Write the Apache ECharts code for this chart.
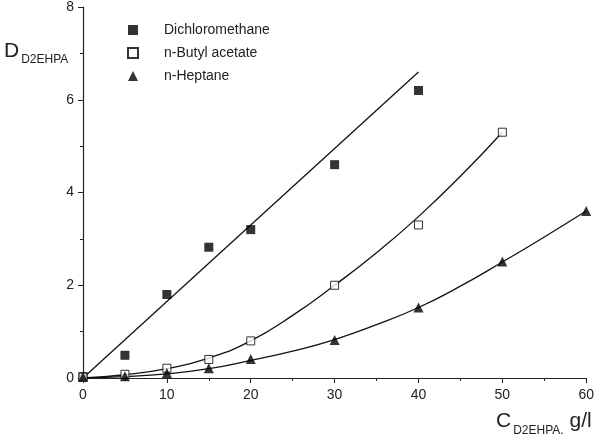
<!DOCTYPE html>
<html>
<head>
<meta charset="utf-8">
<script src="https://cdn.jsdelivr.net/npm/echarts@6/dist/echarts.min.js"></script>
<style>html,body{margin:0;padding:0;background:#fff}#c{width:597px;height:434px}</style>
</head>
<body>
<div id="c"></div>
<script>
// Measured points
const dcmX = [0, 5, 10, 15, 20, 30, 40];
const dcmY = [0.03, 0.49, 1.8, 2.82, 3.2, 4.6, 6.2];
const butX = [0, 5, 10, 15, 20, 30, 40, 50];
const butY = [0.02, 0.08, 0.21, 0.4, 0.8, 2.0, 3.3, 5.3];
const hepX = [0, 5, 10, 15, 20, 30, 40, 50, 60];
const hepY = [0.02, 0.04, 0.11, 0.21, 0.41, 0.82, 1.52, 2.51, 3.6];
// Fitted curves
const dcmFitX = [0, 40];
const dcmFitY = [0, 6.6];
const butFitX = [0, 5, 10, 15, 20, 25, 30, 35, 40, 45, 50];
const butFitY = [0, 0.07, 0.2, 0.43, 0.8, 1.35, 2.0, 2.7, 3.48, 4.35, 5.3];
const hepFitX = [0, 5, 10, 15, 20, 25, 30, 35, 40, 45, 50, 55, 60];
const hepFitY = [0, 0.03, 0.09, 0.2, 0.38, 0.58, 0.83, 1.15, 1.52, 1.98, 2.5, 3.04, 3.6];
const names = ['Dichloromethane', 'n-Butyl acetate', 'n-Heptane'];

const zip = (xs, ys) => xs.map((x, i) => [x, ys[i]]);
const chart = echarts.init(document.getElementById('c'), null, {renderer: 'canvas'});
const font = 'Liberation Sans, Arial, sans-serif';
const lineStyle = {color: '#111', width: 1.3};
const fit = (xs, ys) => ({type: 'line', data: zip(xs, ys), smooth: true, showSymbol: false, symbol: 'none', lineStyle, silent: true, z: 1});
chart.setOption({
  animation: false,
  grid: {left: 83, right: 5, top: 5, bottom: 56},
  legend: {
    data: names, orient: 'vertical', left: 122, top: 18, itemGap: 9,
    itemWidth: 10, itemHeight: 10,
    textStyle: {fontFamily: font, fontSize: 14, color: '#222', padding: [0, 0, 0, 21]}
  },
  xAxis: {
    type: 'value', min: 0, max: 60, interval: 10,
    axisLine: {lineStyle: {color: '#222', width: 1.2}},
    axisTick: {inside: false, length: 5, lineStyle: {color: '#222'}},
    minorTick: {show: true, splitNumber: 2, length: 3, lineStyle: {color: '#222'}},
    splitLine: {show: false},
    axisLabel: {fontFamily: font, fontSize: 14, color: '#222', margin: 10}
  },
  yAxis: {
    type: 'value', min: 0, max: 8, interval: 2,
    axisLine: {show: true, lineStyle: {color: '#222', width: 1.2}},
    axisTick: {show: true, inside: false, length: 5, lineStyle: {color: '#222'}},
    minorTick: {show: true, splitNumber: 2, length: 3, lineStyle: {color: '#222'}},
    splitLine: {show: false},
    axisLabel: {fontFamily: font, fontSize: 14, color: '#222', margin: 9}
  },
  series: [
    {name: names[0], type: 'scatter', data: zip(dcmX, dcmY), symbol: 'rect', symbolSize: 9, itemStyle: {color: '#000'}, z: 3},
    {name: names[1], type: 'scatter', data: zip(butX, butY), symbol: 'rect', symbolSize: 8, itemStyle: {color: '#fff', borderColor: '#000', borderWidth: 1}, z: 3},
    {name: names[2], type: 'scatter', data: zip(hepX, hepY), symbol: 'triangle', symbolSize: 10, itemStyle: {color: '#000'}, z: 3},
    fit(dcmFitX, dcmFitY),
    fit(butFitX, butFitY),
    fit(hepFitX, hepFitY)
  ],
  graphic: [
    {type: 'text', left: 4, top: 41, style: {text: '{a|D}{b|D2EHPA}', rich: {a: {fontFamily: font, fontSize: 21, fill: '#222'}, b: {fontFamily: font, fontSize: 12, fill: '#222', padding: [16, 0, 0, 2]}}}},
    {type: 'text', left: 496, top: 411, style: {text: '{a|C}{b|D2EHPA,}{a| g/l}', rich: {a: {fontFamily: font, fontSize: 21, fill: '#222'}, b: {fontFamily: font, fontSize: 12, fill: '#222', padding: [18, 0, 0, 2]}}}}
  ]
});
</script>
</body>
</html>
